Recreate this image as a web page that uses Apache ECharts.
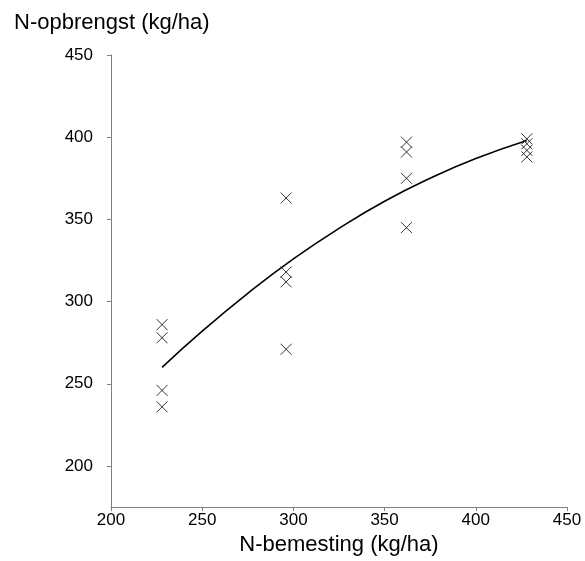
<!DOCTYPE html>
<html>
<head>
<meta charset="utf-8">
<script src="https://cdn.jsdelivr.net/npm/echarts@6/dist/echarts.min.js"></script>
<style>html,body{margin:0;padding:0;background:#fff;}#c{width:585px;height:561px;}</style>
</head>
<body>
<div id="c"></div>
<script>
// Observed N-rates and yields
var obsX = [228,228,228,228, 296,296,296,296, 362,362,362,362, 428,428,428,428];
var obsY = [286,278,246,236, 363,318,312,271, 397,391,375,345, 399,396,392,388];
// Fitted curve
var curveX = [228,250,275,300,325,350,375,400,428];
var curveY = [260,282,305,326,344.5,361,375,387,398];
var yTicks = [200,250,300,350,400,450];
var xTitle = 'N-bemesting (kg/ha)';
var yTitle = 'N-opbrengst (kg/ha)';

var chart = echarts.init(document.getElementById('c'), null, {renderer:'canvas'});
var font = 'Liberation Sans, Arial, sans-serif';
chart.setOption({
  animation:false,
  backgroundColor:'#fff',
  title:{text:yTitle,left:9,top:7,textStyle:{fontFamily:font,fontSize:22,fontWeight:'normal',color:'#000'}},
  grid:{left:111,top:55,right:18,bottom:49,containLabel:false},
  xAxis:{type:'value',min:200,max:450,interval:50,
    name:xTitle,nameLocation:'middle',nameGap:23,
    nameTextStyle:{fontFamily:font,fontSize:22,color:'#000'},
    axisLine:{lineStyle:{color:'#808080',width:1}},
    axisTick:{show:true,inside:false,length:4,lineStyle:{color:'#808080'}},
    axisLabel:{fontFamily:font,fontSize:17,color:'#000',margin:5},
    splitLine:{show:false}},
  yAxis:{type:'value',min:175,max:450,
    axisLine:{show:true,lineStyle:{color:'#808080',width:1}},
    axisTick:{show:true,inside:false,length:4,lineStyle:{color:'#808080'},customValues:yTicks},
    axisLabel:{fontFamily:font,fontSize:17,color:'#000',margin:18,customValues:yTicks},
    splitLine:{show:false}},
  series:[
    {type:'scatter',data:obsX.map(function(x,i){return [x,obsY[i]];}),
      symbol:'path://M0,0L10,10M10,0L0,10',symbolSize:11,
      itemStyle:{color:'none',borderColor:'#000',borderWidth:1}},
    {type:'line',data:curveX.map(function(x,i){return [x,curveY[i]];}),
      smooth:true,showSymbol:false,symbol:'none',
      lineStyle:{color:'#000',width:1.6}}
  ]
});
</script>
</body>
</html>
